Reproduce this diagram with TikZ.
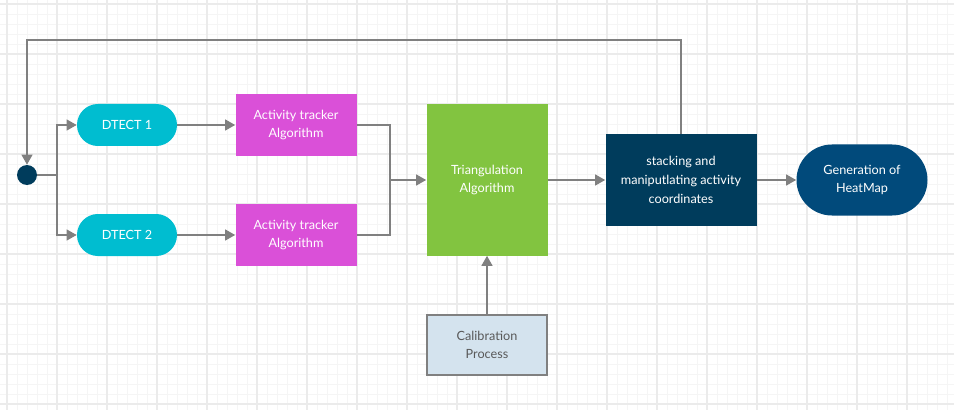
\documentclass[tikz,border=0pt]{standalone}
\usepackage{fontspec}
\setmainfont{Lato}
\usepackage{xcolor}
\usepackage{tikz}
\usetikzlibrary{arrows.meta, positioning}

\definecolor{linegray}{HTML}{808080}
\definecolor{detcyan}{HTML}{00BDD0}
\definecolor{trackpink}{HTML}{DA50D8}
\definecolor{trigreen}{HTML}{82C440}
\definecolor{stacknavy}{HTML}{003C5C}
\definecolor{heatnavy}{HTML}{014A7B}
\definecolor{calibblue}{HTML}{D4E3EE}

\tikzset{
  gridminor/.style={draw=black!4, line width=0.6pt},
  gridmajor/.style={draw=black!8, line width=0.9pt},
  conn/.style={draw=linegray, line width=1.5pt, -{Triangle[length=7.5pt, width=8pt]}},
  plainconn/.style={draw=linegray, line width=1.5pt},
  lbl/.style={text=white, align=center, font=\fontsize{9.5}{14}\selectfont},
  detect/.style={lbl, fill=detcyan, minimum width=75pt, minimum height=31.5pt, rounded corners=15.7pt},
  tracker/.style={lbl, fill=trackpink, minimum width=90.75pt, minimum height=46.5pt},
}

\begin{document}
\begin{tikzpicture}[x=0.75pt, y=-0.75pt]
    \useasboundingbox (0,0) rectangle (954,410);
    % 1. Lưới nền
    \foreach \gx in {7,17,...,947} \draw[gridminor] (\gx,0) -- (\gx,410);
    \foreach \gy in {4,14,...,404} \draw[gridminor] (0,\gy) -- (954,\gy);
    \foreach \gx in {7,57,...,907} \draw[gridmajor] (\gx,0) -- (\gx,410);
    \foreach \gy in {4,54,...,404} \draw[gridmajor] (0,\gy) -- (954,\gy);

    % 2. Các khối
    \node[circle, fill=stacknavy, minimum size=15pt, inner sep=0pt] (start) at (27,175) {};
    \node[detect] (det1) at (127,125) {DTECT 1};
    \node[detect] (det2) at (127,235) {DTECT 2};
    \node[tracker] (track1) at (296,125) {Activity tracker\\Algorithm};
    \node[tracker] (track2) at (296,235) {Activity tracker\\Algorithm};
    \node[lbl, fill=trigreen, minimum width=90.75pt, minimum height=113.25pt] (tri) at (487,180) {Triangulation\\Algorithm};
    \node[lbl, fill=stacknavy, minimum width=113.25pt, minimum height=68.25pt] (stack) at (681,180) {stacking and\\maniputlating activity\\coordinates};
    \node[lbl, fill=heatnavy, minimum width=98.25pt, minimum height=53.25pt, rounded corners=26.6pt] (heat) at (862,180) {Generation of\\HeatMap};
    \node[lbl, text=black!65, fill=calibblue, draw=linegray, line width=1.5pt, minimum width=90pt, minimum height=45pt] (calib) at (487,345) {Calibration\\Process};

    % 3. Điểm rẽ nhánh
    \coordinate (split) at (57,175);
    \coordinate (merge) at (390,180);
    \coordinate (top) at (0,40);

    % 4. Các đường nối
    \draw[plainconn] (start.east) -- (split);
    \draw[conn] (split) |- (det1.west);
    \draw[conn] (split) |- (det2.west);
    \draw[conn] (det1) -- (track1);
    \draw[conn] (det2) -- (track2);
    \draw[plainconn] (track1.east) -| (merge);
    \draw[plainconn] (track2.east) -| (merge);
    \draw[conn] (merge) -- (tri.west);
    \draw[conn] (tri.east |- stack.west) -- (stack.west);
    \draw[conn] (stack) -- (heat);
    \draw[conn] (calib) -- (tri);
    \draw[conn] (stack.north) -- (stack.north |- top) -| (start.north);
\end{tikzpicture}
\end{document}
